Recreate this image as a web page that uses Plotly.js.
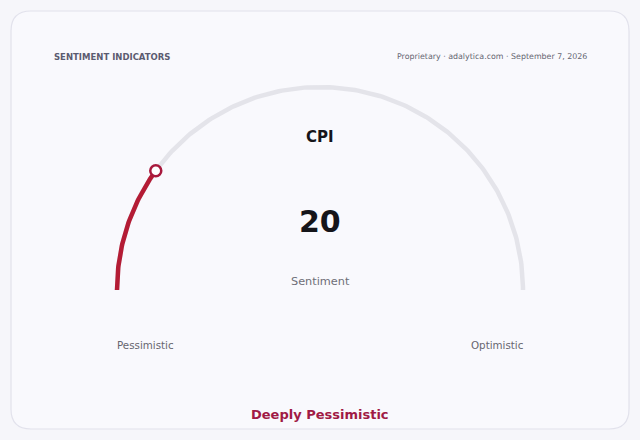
<!DOCTYPE html>
<html>
<head>
<meta charset="utf-8">
<script src="https://cdn.plot.ly/plotly-3.0.1.min.js"></script>
<style>
  html, body { margin: 0; padding: 0; background: #f6f6fa; }
  #chart { width: 640px; height: 440px; }
</style>
</head>
<body>
<div id="chart"></div>
<script>
// gauge data
const indicatorName = 'CPI';
const indicatorValue = 20;
const gaugeMin = 0;
const gaugeMax = 100;
const valueLabel = 'Sentiment';
const endLabels = ['Pessimistic', 'Optimistic'];
const verdict = 'Deeply Pessimistic';
const headerLeft = 'SENTIMENT INDICATORS';
const headerRight = 'Proprietary · adalytica.com · September 7, 2026';

const W = 640, H = 440;
const R = 203;            // arc radius in px
const cx = 320, cy = 290; // arc centre in px

// value -> angle (180deg at min, 0deg at max)
function arc(from, to, n) {
  let xs = [], ys = [];
  for (let i = 0; i <= n; i++) {
    let v = from + (to - from) * i / n;
    let a = Math.PI * (1 - (v - gaugeMin) / (gaugeMax - gaugeMin));
    xs.push(Math.cos(a));
    ys.push(Math.sin(a));
  }
  return { x: xs, y: ys };
}

let track = arc(gaugeMin, gaugeMax, 200);
let fill = arc(gaugeMin, indicatorValue, 80);

let traces = [
  {
    x: track.x, y: track.y, mode: 'lines', type: 'scatter',
    line: { color: '#e4e4ea', width: 4.5 }, hoverinfo: 'skip',
  },
  {
    x: fill.x, y: fill.y, mode: 'lines', type: 'scatter',
    line: { color: '#b41c35', width: 4.5 }, hoverinfo: 'skip',
  },
  {
    x: [fill.x[fill.x.length - 1]], y: [fill.y[fill.y.length - 1]],
    mode: 'markers', type: 'scatter',
    marker: { size: 11, color: '#ffffff', line: { color: '#a8193d', width: 2.5 } },
    hoverinfo: 'skip',
  },
];

let font = 'DejaVu Sans, sans-serif';
function px(x) { return x / W; }
function py(y) { return 1 - y / H; }

function note(text, x, y, size, color, bold, anchor) {
  return {
    text: bold ? '<b>' + text + '</b>' : text,
    xref: 'paper', yref: 'paper', x: px(x), y: py(y),
    xanchor: anchor || 'center', yanchor: 'middle', showarrow: false,
    font: { family: font, size: size, color: color },
  };
}

// rounded card outline in paper units
let r = 20, l = 11, t = 11, rt = 629, b = 429;
let card = 'M ' + px(l + r) + ',' + py(t) +
  ' L ' + px(rt - r) + ',' + py(t) +
  ' Q ' + px(rt) + ',' + py(t) + ' ' + px(rt) + ',' + py(t + r) +
  ' L ' + px(rt) + ',' + py(b - r) +
  ' Q ' + px(rt) + ',' + py(b) + ' ' + px(rt - r) + ',' + py(b) +
  ' L ' + px(l + r) + ',' + py(b) +
  ' Q ' + px(l) + ',' + py(b) + ' ' + px(l) + ',' + py(b - r) +
  ' L ' + px(l) + ',' + py(t + r) +
  ' Q ' + px(l) + ',' + py(t) + ' ' + px(l + r) + ',' + py(t) + ' Z';

let layout = {
  width: W, height: H,
  margin: { l: 0, r: 0, t: 0, b: 0 },
  paper_bgcolor: '#f6f6fa',
  plot_bgcolor: 'rgba(0,0,0,0)',
  showlegend: false,
  xaxis: { visible: false, range: [-cx / R, (W - cx) / R], fixedrange: true },
  yaxis: { visible: false, range: [-(H - cy) / R, cy / R], fixedrange: true },
  shapes: [
    {
      type: 'path', xref: 'paper', yref: 'paper', path: card,
      fillcolor: '#f9f9fd', line: { color: '#e2e2ec', width: 1.2 }, layer: 'below',
    },
  ],
  annotations: [
    note(headerLeft, 52, 57, 8.5, '#5b5b70', true, 'left'),
    note(headerRight, 589, 57, 7.9, '#666672', false, 'right'),
    note(indicatorName, cx, 137, 15, '#15151a', true),
    note(String(indicatorValue), cx, 221, 30, '#15151a', true),
    note(valueLabel, cx, 281, 11.3, '#6e6e78', false),
    note(endLabels[0], 145, 345, 10.3, '#66666f', false),
    note(endLabels[1], 497, 345, 10.3, '#66666f', false),
    note(verdict, cx, 414, 13, '#a01a45', true),
  ],
};

Plotly.newPlot('chart', traces, layout, { displayModeBar: false, staticPlot: true });
</script>
</body>
</html>
